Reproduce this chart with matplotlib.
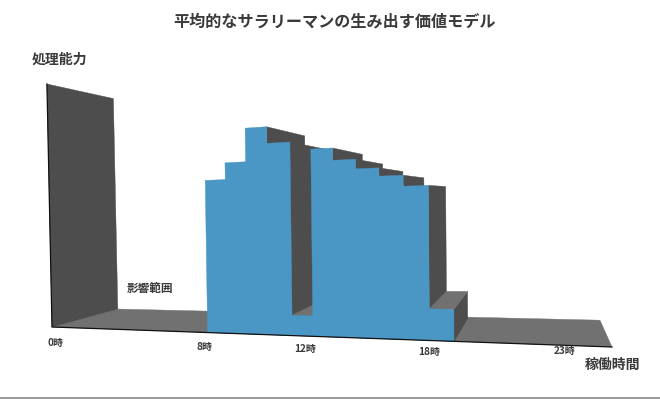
import numpy as np
import matplotlib
matplotlib.use("Agg")
import matplotlib.pyplot as plt

plt.rcParams['font.family'] = ['Noto Sans CJK JP', 'DejaVu Sans']

# ---- data ----
title = "平均的なサラリーマンの生み出す価値モデル"
y_label = "処理能力"
x_label = "稼働時間"
range_label = "影響範囲"
hours = [8, 9, 10, 11, 12, 13, 14, 15, 16, 17, 18]
values = [57.7, 64, 76.5, 70.4, 7.4, 67.4, 63, 59.6, 56.7, 52.9, 10.8]
hour_end = 24
value_max = 100
tick_hours = [0, 8, 12, 18, 23]
tick_labels = ["0時", "8時", "12時", "18時", "23時"]

# ---- perspective scale (hour, value, depth) -> pixel ----
scale_h = [0, 8, 9, 10, 11, 12, 13, 14, 15, 16, 17, 18, 19, 24]
scale_x = [52, 207.6, 227.5, 248, 269.3, 292.3, 313, 334.5, 357.5, 380.5, 404.5, 429.5, 454, 612]
VP = np.array([543.0, 193.0])


def project(h, v, d):
    x0 = np.interp(h, scale_h, scale_x)
    base = 327 + 0.0357 * (x0 - 52)
    height = v * 2.43 * (x0 + 1775) / 1827
    x = x0 - height * 0.021 * (640 - x0) / 590
    y = base - height
    t = d * (0.134 + 0.04 * (h / 24) ** 3)
    return (x + t * (VP[0] - x), y + t * (VP[1] - y))


def poly(ax, pts, color, z):
    xy = [project(*p) for p in pts]
    ax.fill([q[0] for q in xy], [q[1] for q in xy], color=color, lw=0.3, zorder=z)


BLUE = "#4a96c4"
DARK = "#4d4d4d"
FLOOR = "#717171"

fig = plt.figure(figsize=(6.6, 4), dpi=100)
ax = fig.add_axes([0, 0, 1, 1])
ax.set_xlim(0, 660)
ax.set_ylim(400, 0)
ax.axis("off")

# floor and wall
poly(ax, [(0, 0, 0), (hour_end, 0, 0), (hour_end, 0, 1), (0, 0, 1)], FLOOR, 1)
poly(ax, [(0, 0, 0), (0, value_max, 0), (0, value_max, 1), (0, 0, 1)], DARK, 2)

# side faces and visible tops, left to right
z = 3
for h, v in zip(hours, values):
    e = h + 1
    poly(ax, [(e, 0, 0), (e, v, 0), (e, v, 1), (e, 0, 1)], DARK, z)
    if project(h, v, 0)[1] > VP[1]:
        poly(ax, [(h, v, 0), (e, v, 0), (e, v, 1), (h, v, 1)], FLOOR, z + 0.5)
    z += 1

# one silhouette for all the fronts, so no seams between the columns
outline = [(hours[0], 0, 0)]
for h, v in zip(hours, values):
    outline += [(h, v, 0), (h + 1, v, 0)]
outline.append((hours[-1] + 1, 0, 0))
poly(ax, outline, BLUE, 40)

# axis lines
p0 = project(0, 0, 0)
p1 = project(hour_end, 0, 0)
p2 = project(0, value_max, 0)
ax.plot([p2[0], p0[0], p1[0]], [p2[1], p0[1], p1[1]], color="#111111", lw=0.9, zorder=50)

# texts
INK = "#3a3a3a"
ax.text(335, 22, title, ha="center", va="center", fontsize=11.6, color=INK, weight="bold")
ax.text(60, 59.5, y_label, ha="center", va="center", fontsize=10, color=INK, weight="bold")
ax.text(612, 364.5, x_label, ha="center", va="center", fontsize=10, color=INK, weight="bold")
ax.text(150, 288, range_label, ha="center", va="center", fontsize=8.4, color=INK, weight="bold")
offs = [(3.5, 16), (-3, 14), (13, 13), (0, 12), (-16, 5)]
for th, lab, (dx, dy) in zip(tick_hours, tick_labels, offs):
    px, py = project(th, 0, 0)
    ax.text(px + dx, py + dy, lab, ha="center", va="center", fontsize=7.2, color=INK, weight="bold")

# bottom border of the picture
ax.plot([0, 1], [0.004, 0.004], transform=ax.transAxes, color="#888888", lw=1.2, zorder=60)

fig.savefig("out.png", dpi=100, facecolor="white")
